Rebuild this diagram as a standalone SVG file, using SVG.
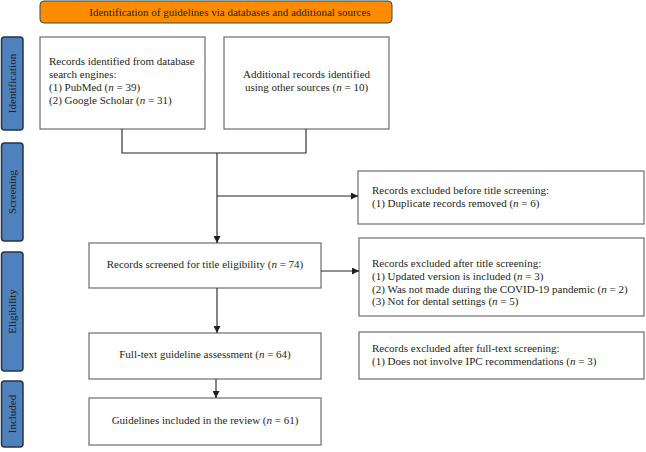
<svg xmlns="http://www.w3.org/2000/svg" width="646" height="452" viewBox="0 0 646 452">
<style>
text{font-family:"Liberation Serif","Times New Roman",serif;font-size:11px;fill:#231f20}
.box{fill:#fff;stroke:#6d6d6d;stroke-width:1.2}
.side{fill:#4f81bd;stroke:#253447;stroke-width:1.5}
.c{fill:none;stroke:#231f20;stroke-width:1.1}
.m{text-anchor:middle}
.i{font-style:italic}
</style>
<defs>
<marker id="ah" viewBox="0 0 10 10" refX="10" refY="5" markerWidth="7" markerHeight="7" markerUnits="userSpaceOnUse" orient="auto">
<path d="M0,0 L10,5 L0,10 Z" fill="#231f20"/>
</marker>
</defs>
<g id="banner">
<rect x="40" y="1" width="352" height="22" rx="4" fill="#ff8c00" stroke="#2f4f4f" stroke-width="1"/>
<text x="230" y="16" class="m">Identification of guidelines via databases and additional sources</text>
</g>
<g id="side-identification">
<rect x="1.5" y="37" width="21.5" height="93" rx="3" class="side"/>
<text transform="translate(16,83.5) rotate(-90)" class="m">Identification</text>
</g>
<g id="side-screening">
<rect x="1.5" y="143" width="21.5" height="98" rx="3" class="side"/>
<text transform="translate(16,192) rotate(-90)" class="m">Screening</text>
</g>
<g id="side-eligibility">
<rect x="1.5" y="252" width="21.5" height="119" rx="3" class="side"/>
<text transform="translate(16,311.5) rotate(-90)" class="m">Eligibility</text>
</g>
<g id="side-included">
<rect x="1.5" y="381" width="21.5" height="66" rx="3" class="side"/>
<text transform="translate(16,414) rotate(-90)" class="m">Included</text>
</g>
<g id="db-records">
<rect x="40" y="37" width="165" height="92" class="box"/>
<text x="49" y="65">Records identified from database</text>
<text x="49" y="78">search engines:</text>
<text x="49" y="91">(1) PubMed (<tspan class="i">n</tspan> = 39)</text>
<text x="49" y="104">(2) Google Scholar (<tspan class="i">n</tspan> = 31)</text>
</g>
<g id="other-records">
<rect x="224" y="37" width="165" height="92" class="box"/>
<text x="306.5" y="78" class="m">Additional records identified</text>
<text x="306.5" y="91" class="m">using other sources (<tspan class="i">n</tspan> = 10)</text>
</g>
<g id="excluded-before">
<rect x="358" y="171" width="286" height="53" class="box"/>
<text x="372" y="194">Records excluded before title screening:</text>
<text x="372" y="207">(1) Duplicate records removed (<tspan class="i">n</tspan> = 6)</text>
</g>
<g id="screened">
<rect x="89" y="243" width="232" height="45" class="box"/>
<text x="205" y="268" class="m">Records screened for title eligibility (<tspan class="i">n</tspan> = 74)</text>
</g>
<g id="excluded-title">
<rect x="359" y="238" width="285" height="78" class="box"/>
<text x="372" y="267">Records excluded after title screening:</text>
<text x="372" y="280">(1) Updated version is included (<tspan class="i">n</tspan> = 3)</text>
<text x="372" y="292.5">(2) Was not made during the COVID-19 pandemic (<tspan class="i">n</tspan> = 2)</text>
<text x="372" y="305">(3) Not for dental settings (<tspan class="i">n</tspan> = 5)</text>
</g>
<g id="fulltext">
<rect x="89" y="333" width="232" height="46" class="box"/>
<text x="205" y="358" class="m">Full-text guideline assessment (<tspan class="i">n</tspan> = 64)</text>
</g>
<g id="excluded-fulltext">
<rect x="359" y="332" width="285" height="47" class="box"/>
<text x="372" y="352">Records excluded after full-text screening:</text>
<text x="372" y="365">(1) Does not involve IPC recommendations (<tspan class="i">n</tspan> = 3)</text>
</g>
<g id="included">
<rect x="89" y="398" width="232" height="47" class="box"/>
<text x="205" y="424" class="m">Guidelines included in the review (<tspan class="i">n</tspan> = 61)</text>
</g>
<g id="connectors">
<path class="c" d="M122,129 V153 H306 V129"/>
<path class="c" d="M217,153 V243" marker-end="url(#ah)"/>
<path class="c" d="M217,196 H358" marker-end="url(#ah)"/>
<path class="c" d="M321,271 H359" marker-end="url(#ah)"/>
<path class="c" d="M217,288 V333" marker-end="url(#ah)"/>
<path class="c" d="M216,379 V398" marker-end="url(#ah)"/>
</g>
</svg>
